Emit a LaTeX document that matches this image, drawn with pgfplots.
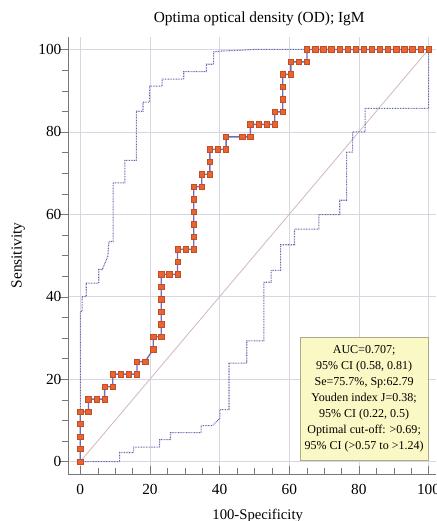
\documentclass[border=0pt]{standalone}
\usepackage{fontspec}
\setmainfont{Liberation Serif}
\usepackage{pgfplots}
\pgfplotsset{compat=1.18}

\definecolor{rocline}{RGB}{110,110,190}
\definecolor{rocfill}{RGB}{232,100,50}
\definecolor{rocedge}{RGB}{196,78,36}
\definecolor{band}{RGB}{100,100,175}
\definecolor{diag}{RGB}{212,182,192}
\definecolor{gridc}{RGB}{215,215,225}
\definecolor{axisc}{RGB}{120,120,120}
\definecolor{boxfill}{RGB}{250,248,196}
\definecolor{boxedge}{RGB}{170,170,140}

\begin{document}
\begin{tikzpicture}
\begin{axis}[
    name=ax,
    scale only axis,
    width=275pt, height=327pt,
    xmin=-3.5, xmax=102, ymin=-3, ymax=103,
    axis x line*=bottom, axis y line*=left,
    axis line style={axisc, -},
    xtick={0,20,40,60,80,100},
    ytick={0,20,40,60,80,100},
    minor tick num=3,
    tick align=outside,
    major tick length=6pt, minor tick length=4.5pt,
    tick style={axisc},
    major x tick style={yshift=6pt},
    minor x tick style={yshift=4.5pt},
    grid=major,
    major grid style={gridc, line width=0.5pt},
    clip=false,
    tick label style={font=\fontsize{11.5}{13}\selectfont, /pgf/number format/assume math mode=true},
    x tick label style={yshift=2pt},
    y tick label style={xshift=4.5pt},
    title={Optima optical density (OD); IgM},
    title style={at={(axis description cs:0.52,1.0436)}, anchor=center, yshift=-6.5pt, font=\fontsize{11.5}{13}\selectfont},
    xlabel={100-Specificity},
    xlabel style={at={(axis description cs:0.516,-0.0963)}, anchor=center, font=\fontsize{11}{13}\selectfont},
    ylabel={Sensitivity},
    ylabel style={at={(axis description cs:-0.136,0.5)}, anchor=center, font=\fontsize{11.5}{13}\selectfont},
]
% reference diagonal
\addplot[diag, line width=0.6pt] coordinates {(0,0) (100,100)};

% upper 95% CI band
\addplot[band, line width=0.8pt, dash pattern=on 0.6pt off 0.6pt] coordinates {
    (0,0) (0,36.4) (0.5,36.4) (0.5,40) (1.7,40) (1.7,43.3) (5.3,43.3) (5.3,46.6)
    (6.3,46.6) (7.9,49.8) (8.2,53.4) (9.4,53.4) (9.4,67.6) (12.8,67.6) (12.8,73.1)
    (16.1,73.1) (16.1,85.0) (18.0,85.0) (18.0,87.2) (19.9,87.2) (19.9,91.1)
    (23.5,91.1) (23.5,92.8) (29.7,92.8) (29.7,94.6) (36.2,94.6) (36.2,96.4)
    (38.3,96.4) (38.3,99.4) (40.3,99.6) (46,99.8) (50,100) (100,100)
};

% lower 95% CI band
\addplot[band, line width=0.8pt, dash pattern=on 0.6pt off 0.6pt] coordinates {
    (0,0) (11.3,0) (11.3,2.2) (15.3,2.2) (15.3,3.5) (22.8,3.5) (22.8,5.3)
    (25.9,5.3) (25.9,7.0) (34.7,7.0) (34.7,8.7) (37.9,8.7) (40.1,10.5)
    (40.1,12.6) (42.7,12.6) (42.7,23.9) (47.8,23.9) (47.8,29.3) (52.7,29.3)
    (52.7,43.5) (54.8,43.5) (54.8,46.4) (57.5,46.4) (57.5,52.6) (61.5,52.6)
    (61.5,56.4) (68.5,56.4) (68.5,59.9) (74.5,59.9) (74.5,63.4) (76.5,63.4)
    (76.5,75.1) (78.2,75.1) (78.2,80.0) (81.8,80.0) (81.8,85.7) (100,85.7) (100,100)
};

% empirical ROC curve
\addplot[rocline, line width=1pt, mark=square*, mark size=2pt,
    mark options={fill=rocfill, draw=rocedge, line width=0.4pt, solid}] coordinates {
    (0,0) (0,3.03) (0,6.06) (0,9.09) (0,12.12) (2.326,12.12) (2.326,15.15)
    (4.651,15.15) (6.977,15.15) (6.977,18.18) (9.302,18.18) (9.302,21.21)
    (11.628,21.21) (13.953,21.21) (16.279,21.21) (16.279,24.24) (18.605,24.24)
    (20.930,27.27) (20.930,30.30) (23.256,30.30) (23.256,33.33) (23.256,36.36)
    (23.256,39.39) (23.256,42.42) (23.256,45.45) (25.581,45.45) (27.907,45.45)
    (27.907,48.48) (27.907,51.52) (30.233,51.52) (32.558,51.52) (32.558,54.55)
    (32.558,57.58) (32.558,60.61) (32.558,63.64) (32.558,66.67) (34.884,66.67)
    (34.884,69.70) (37.209,69.70) (37.209,72.73) (37.209,75.76) (39.535,75.76)
    (41.860,75.76) (41.860,78.79) (46.512,78.79) (48.837,78.79) (48.837,81.82)
    (51.163,81.82) (53.488,81.82) (55.814,81.82) (55.814,84.85) (58.140,84.85)
    (58.140,87.88) (58.140,90.91) (58.140,93.94) (60.465,93.94) (60.465,96.97)
    (62.791,96.97) (65.116,96.97) (65.116,100) (67.442,100) (69.767,100)
    (72.093,100) (74.419,100) (76.744,100) (79.070,100) (81.395,100) (83.721,100)
    (86.047,100) (88.372,100) (90.698,100) (93.023,100) (95.349,100) (97.674,100)
    (100,100)
};

\node[fill=boxfill, draw=boxedge, line width=0.5pt, align=center,
      minimum width=96pt, minimum height=92.5pt, inner sep=2pt,
      font=\fontsize{9}{11.9}\selectfont]
    at (axis cs:81.5,15.2) {AUC=0.707;\\95\% CI (0.58, 0.81)\\Se=75.7\%, Sp:62.79\\Youden index J=0.38;\\95\% CI (0.22, 0.5)\\Optimal cut-off: >0.69;\\95\% CI (>0.57 to >1.24)};
\end{axis}
\pgfresetboundingbox
\path ([shift={(-51pt,-35.25pt)}]ax.south west) rectangle ([shift={(0.75pt,27.75pt)}]ax.north east);
\end{tikzpicture}
\end{document}
